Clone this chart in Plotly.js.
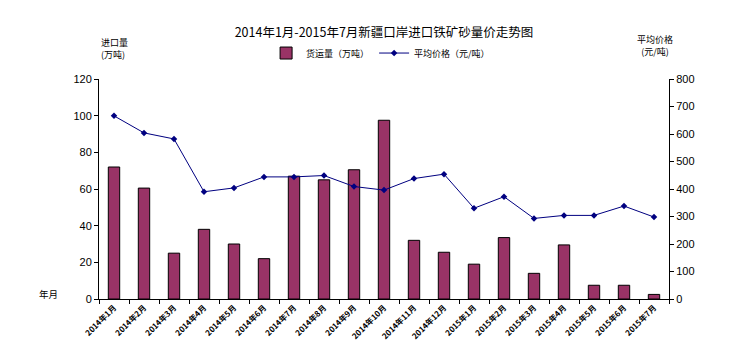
<!DOCTYPE html>
<html><head><meta charset="utf-8">
<script src="https://cdn.plot.ly/plotly-3.0.1.min.js"></script>
<style>html,body{margin:0;padding:0;background:#fff}#c{width:755px;height:359px}</style>
</head><body><div id="c"></div>
<script>
const months = ["2014年1月","2014年2月","2014年3月","2014年4月","2014年5月","2014年6月","2014年7月","2014年8月","2014年9月","2014年10月","2014年11月","2014年12月","2015年1月","2015年2月","2015年3月","2015年4月","2015年5月","2015年6月","2015年7月"];
const volume = [72, 60.5, 25, 38, 30, 22, 67, 65, 70.5, 97.5, 32, 25.5, 19, 33.5, 14, 29.5, 7.5, 7.5, 2.5];
const price = [666, 604, 582, 390, 404, 444, 444, 449, 409, 396, 438, 454, 330, 372, 293, 304, 304, 338, 298];
const volName = "货运量（万吨）";
const priceName = "平均价格（元/吨）";

const cjk = '"Noto Sans CJK SC", sans-serif';
const num = '"Liberation Sans", Arial, sans-serif';

const traces = [
  {type:"bar", x: months, y: volume, name: volName, yaxis:"y",
   marker:{color:"#993366", line:{color:"#000", width:1}}},
  {type:"scatter", mode:"lines+markers", x: months, y: price, name: priceName, yaxis:"y2",
   line:{color:"#000080", width:1}, marker:{symbol:"diamond", size:5, color:"#000080"}}
];

const layout = {
  width:755, height:359,
  margin:{l:99, r:86, t:79, b:60},
  paper_bgcolor:"#fff", plot_bgcolor:"#fff",
  showlegend:true,
  bargap:0.62,
  title:{text:"2014年1月-2015年7月新疆口岸进口铁矿砂量价走势图", font:{family:cjk, size:12.5, color:"#000"},
         x:(384-99)/570, xref:"paper", xanchor:"center", y:1-33/359, yanchor:"middle"},
  legend:{orientation:"h", x:0.494, xanchor:"center", y:1.118, yanchor:"middle",
          font:{family:cjk, size:9, color:"#000"}, itemwidth:30, tracegroupgap:0},
  xaxis:{type:"category", range:[-0.5, 18.5], showline:true, linecolor:"#000", linewidth:1, tickson:"boundaries",
         ticks:"outside", ticklen:4, tickcolor:"#000", tickangle:-45,
         tickfont:{family:cjk, size:8, color:"#000", weight:"bold"}, showgrid:false, zeroline:false},
  yaxis:{range:[0,120], dtick:20, showline:true, linecolor:"#000", linewidth:1,
         ticks:"outside", ticklen:4, tickcolor:"#000", showgrid:false, zeroline:false,
         tickfont:{family:num, size:11, color:"#000"}},
  yaxis2:{range:[0,800], dtick:100, overlaying:"y", side:"right", showline:true, linecolor:"#000", linewidth:1,
         ticks:"outside", ticklen:4, tickcolor:"#000", showgrid:false, zeroline:false,
         tickfont:{family:num, size:11, color:"#000"}},
  annotations:[
    {text:"进口量<br>(万吨)", xref:"paper", yref:"paper", x:0.028, y:1.137, xanchor:"center", yanchor:"middle",
     showarrow:false, align:"left", font:{family:cjk, size:9, color:"#000"}},
    {text:"平均价格<br>(元/吨)", xref:"paper", yref:"paper", x:0.975, y:1.153, xanchor:"center", yanchor:"middle",
     showarrow:false, align:"center", font:{family:cjk, size:9, color:"#000"}},
    {text:"年月", xref:"paper", yref:"paper", x:-0.089, y:0.025, xanchor:"center", yanchor:"middle",
     showarrow:false, font:{family:cjk, size:9.5, color:"#000"}}
  ]
};
Plotly.newPlot("c", traces, layout, {displayModeBar:false, staticPlot:true});
</script></body></html>
